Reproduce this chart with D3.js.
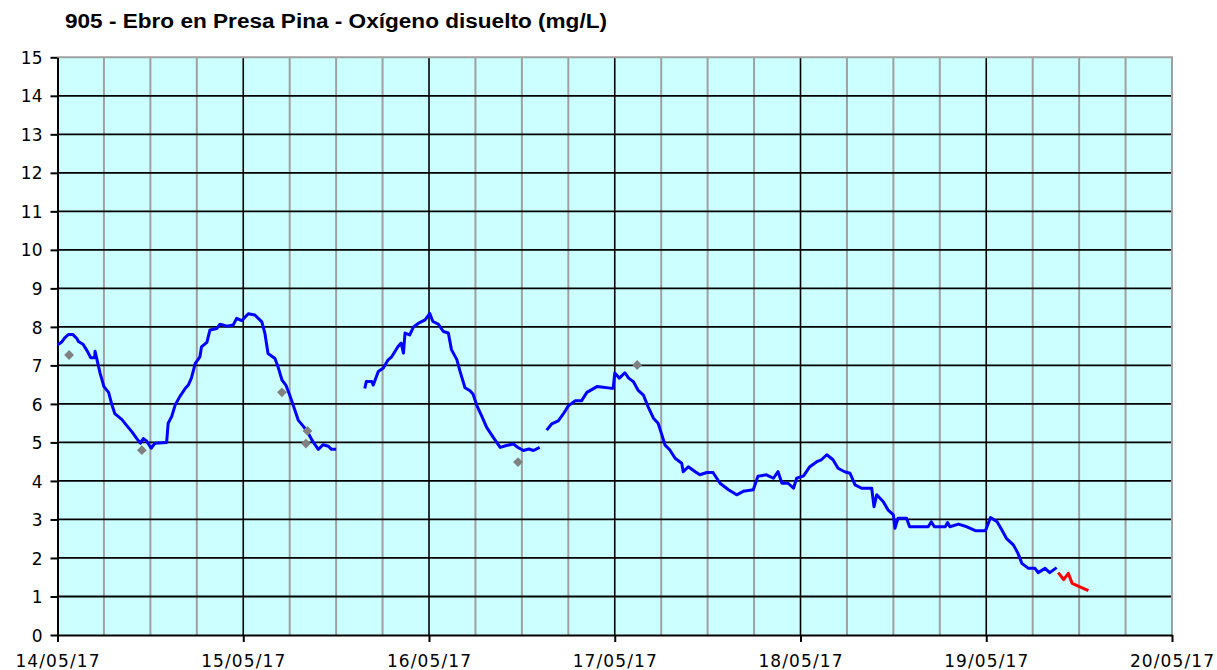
<!DOCTYPE html>
<meta charset="utf-8">
<html lang="es">
<style>
body { margin: 0; background: #fff; }
.title { font-family: "Liberation Sans", Arial, sans-serif; font-weight: bold; font-size: 20px; }
.axis text { font-family: "DejaVu Sans", Verdana, sans-serif; font-size: 17px; fill: #000; }
.axis path, .axis line { stroke: #000; stroke-width: 2px; }
.line { fill: none; stroke-width: 3px; stroke-linejoin: round; }
</style>
<body>
<script src="https://d3js.org/d3.v7.min.js"></script>
<script>

// hours since 14/05/17 00:00 and dissolved oxygen (mg/L)
var seg1Hours = [0, 0.5, 1.0, 1.4, 2.0, 2.5, 2.7, 3.3, 3.85, 4.3, 4.8, 4.85, 5.1, 5.5, 6.0, 6.6, 7.0, 7.4, 8.3, 8.9, 9.6, 10.2, 10.7, 11.1, 11.5, 12.1, 12.6, 14.1, 14.3, 14.75, 15.2, 15.8, 16.5, 16.9, 17.3, 17.8, 18.4, 18.6, 19.3, 19.7, 20.6, 21.0, 21.9, 22.7, 23.15, 23.8, 24.65, 25.5, 26.4, 26.8, 27.2, 28.1, 28.5, 29.0, 29.5, 30.0, 30.6, 31.1, 31.8, 32.4, 33.0, 33.7, 34.3, 35.0, 35.4, 36.0];
var seg1Values = [7.53, 7.6, 7.73, 7.8, 7.8, 7.7, 7.62, 7.55, 7.37, 7.2, 7.2, 7.37, 7.15, 6.8, 6.45, 6.3, 6.0, 5.75, 5.6, 5.45, 5.28, 5.11, 4.98, 5.1, 5.04, 4.85, 4.98, 5.0, 5.5, 5.67, 5.97, 6.19, 6.4, 6.49, 6.67, 7.05, 7.22, 7.48, 7.6, 7.92, 7.96, 8.07, 8.02, 8.05, 8.22, 8.16, 8.34, 8.31, 8.13, 7.83, 7.31, 7.18, 6.96, 6.62, 6.49, 6.23, 5.88, 5.58, 5.41, 5.24, 5.02, 4.82, 4.94, 4.9, 4.82, 4.82];

var seg2Hours = [39.7, 39.9, 40.6, 40.8, 41.45, 42.1, 42.7, 43.2, 44.0, 44.4, 44.7, 44.9, 45.5, 46.0, 46.6, 47.5, 48.1, 48.5, 49.2, 49.85, 50.5, 50.9, 51.6, 52.0, 52.65, 53.3, 53.7, 54.2, 54.8, 55.45, 56.3, 57.2, 58.0, 58.9, 59.5, 60.2, 60.9, 61.5, 62.3];
var seg2Values = [6.4, 6.58, 6.58, 6.49, 6.84, 6.93, 7.14, 7.23, 7.49, 7.58, 7.32, 7.84, 7.79, 8.0, 8.09, 8.18, 8.35, 8.14, 8.07, 7.88, 7.84, 7.41, 7.15, 6.85, 6.42, 6.34, 6.25, 5.95, 5.69, 5.39, 5.13, 4.87, 4.92, 4.96, 4.87, 4.79, 4.83, 4.79, 4.87];

var seg3Hours = [63.2, 63.85, 64.7, 65.35, 66.0, 66.9, 67.7, 68.4, 69.7, 70.5, 71.4, 71.8, 72.0, 72.6, 73.3, 73.8, 74.4, 75.0, 75.7, 76.3, 77.0, 77.6, 78.1, 78.5, 79.1, 79.8, 80.65, 80.85, 81.5, 82.4, 83.0, 83.9, 84.7, 85.6, 86.7, 87.75, 88.6, 89.9, 90.5, 91.6, 92.5, 93.1, 93.6, 94.4, 95.1, 95.5, 96.4, 97.2, 98.1, 98.7, 99.4, 100.2, 100.85, 101.7, 102.4, 103.05, 103.9, 105.2, 105.5, 105.85, 106.7, 107.3, 108.0, 108.2, 108.6, 109.7, 110.1, 112.5, 112.9, 113.3, 114.7, 115.0, 115.3, 116.4, 117.5, 118.6, 119.9, 120.55, 121.4, 122.0, 122.6, 123.5, 124.1, 124.6, 125.45, 126.3, 126.7, 127.6, 128.2, 129.1];
var seg3Values = [5.32, 5.48, 5.56, 5.74, 5.95, 6.08, 6.08, 6.3, 6.45, 6.43, 6.41, 6.41, 6.8, 6.67, 6.81, 6.67, 6.58, 6.36, 6.23, 5.93, 5.63, 5.5, 5.19, 4.93, 4.81, 4.59, 4.46, 4.24, 4.37, 4.24, 4.16, 4.22, 4.22, 3.94, 3.77, 3.64, 3.73, 3.77, 4.12, 4.16, 4.07, 4.24, 3.94, 3.94, 3.81, 4.07, 4.13, 4.37, 4.5, 4.55, 4.68, 4.55, 4.33, 4.24, 4.2, 3.9, 3.81, 3.81, 3.33, 3.64, 3.46, 3.25, 3.12, 2.77, 3.03, 3.03, 2.81, 2.81, 2.94, 2.81, 2.81, 2.92, 2.81, 2.88, 2.81, 2.71, 2.71, 3.05, 2.94, 2.73, 2.51, 2.34, 2.12, 1.86, 1.73, 1.73, 1.62, 1.73, 1.62, 1.75];

// provisional values (red)
var redHours = [129.3, 130.0, 130.6, 131.1, 132.1, 133.2];
var redValues = [1.62, 1.44, 1.6, 1.34, 1.25, 1.15];

// lab samples (grey diamonds)
var sampleHours = [1.5, 10.9, 29.0, 32.3, 32.1, 59.5, 74.9];
var sampleValues = [7.27, 4.8, 6.3, 5.3, 4.97, 4.49, 7.01];

var yTicks = [0, 1, 2, 3, 4, 5, 6, 7, 8, 9, 10, 11, 12, 13, 14, 15];
var dayLabels = ["14/05/17", "15/05/17", "16/05/17", "17/05/17", "18/05/17", "19/05/17", "20/05/17"];

var start = new Date(2017, 4, 14, 0, 0);
var end = new Date(2017, 4, 20, 0, 0);
function toDate(h) { return new Date(start.getTime() + h * 3600000); }
function pairs(hs, vs) { return hs.map(function(h, i) { return {t: toDate(h), v: vs[i]}; }); }

var W = 1217, H = 670;
var pLeft = 57.5, pRight = 1172, pTop = 57.3, pBottom = 635;

var svg = d3.select("body").append("svg")
    .attr("width", W)
    .attr("height", H);

var x = d3.scaleTime().domain([start, end]).range([pLeft, pRight]);
var y = d3.scaleLinear().domain([0, 15]).range([pBottom, pTop]);

// background
svg.append("rect")
    .attr("x", pLeft).attr("y", pTop)
    .attr("width", pRight - pLeft).attr("height", pBottom - pTop)
    .attr("fill", "#ccffff");

// minor vertical grid every 6 hours
var sixHours = d3.timeHour.every(6).range(start, end).filter(function(d) { return d.getHours() != 0; });
svg.append("g").selectAll("line")
    .data(sixHours)
  .enter().append("line")
    .attr("x1", function(d) { return x(d); }).attr("x2", function(d) { return x(d); })
    .attr("y1", pTop).attr("y2", pBottom)
    .attr("stroke", "#a0a0a0").attr("stroke-width", 2);

// day grid lines
var days = d3.timeDay.range(start, d3.timeDay.offset(end, 1));
svg.append("g").selectAll("line")
    .data(days.slice(1, -1))
  .enter().append("line")
    .attr("x1", function(d) { return x(d); }).attr("x2", function(d) { return x(d); })
    .attr("y1", pTop).attr("y2", pBottom)
    .attr("stroke", "#000").attr("stroke-width", 1.6);

// horizontal grid
svg.append("g").selectAll("line")
    .data(yTicks.slice(1, -1))
  .enter().append("line")
    .attr("x1", pLeft).attr("x2", pRight)
    .attr("y1", function(d) { return y(d); }).attr("y2", function(d) { return y(d); })
    .attr("stroke", "#000").attr("stroke-width", 1.8);

// grey border top / right
svg.append("path")
    .attr("d", "M" + pLeft + "," + pTop + "H" + pRight + "V" + pBottom)
    .attr("fill", "none").attr("stroke", "#a0a0a0").attr("stroke-width", 2);

// axes
svg.append("g")
    .attr("class", "axis")
    .attr("transform", "translate(" + pLeft + ",0)")
    .call(d3.axisLeft(y).tickValues(yTicks).tickSize(7).tickPadding(8).tickSizeOuter(0))
    .selectAll("text").attr("dy", "0.36em");

svg.append("g")
    .attr("class", "axis")
    .attr("transform", "translate(0," + pBottom + ")")
    .call(d3.axisBottom(x).tickValues(days.slice(0, 7)).tickSize(7).tickPadding(10).tickSizeOuter(0)
        .tickFormat(function(d, i) { return dayLabels[i]; }))
    .selectAll("text").attr("dy", "0.9em").style("letter-spacing", "1.1px");

// series
var valueline = d3.line()
    .x(function(d) { return x(d.t); })
    .y(function(d) { return y(d.v); });

[pairs(seg1Hours, seg1Values), pairs(seg2Hours, seg2Values), pairs(seg3Hours, seg3Values)].forEach(function(seg) {
  svg.append("path")
      .data([seg])
      .attr("class", "line")
      .style("stroke", "#0000ff")
      .attr("d", valueline);
});

svg.append("path")
    .data([pairs(redHours, redValues)])
    .attr("class", "line")
    .style("stroke", "#ff0000")
    .attr("d", valueline);

// samples: square turned 45 degrees gives a regular diamond
svg.append("g").selectAll("path")
    .data(pairs(sampleHours, sampleValues))
  .enter().append("path")
    .attr("d", d3.symbol().type(d3.symbolSquare).size(48))
    .attr("transform", function(d) { return "translate(" + x(d.t) + "," + y(d.v) + ") rotate(45)"; })
    .attr("fill", "#808080");

// title
svg.append("text")
    .attr("class", "title")
    .attr("x", 65).attr("y", 28)
    .attr("textLength", 542)
    .attr("lengthAdjust", "spacingAndGlyphs")
    .text("905 - Ebro en Presa Pina - Oxígeno disuelto (mg/L)");

</script>
</body>
</html>
